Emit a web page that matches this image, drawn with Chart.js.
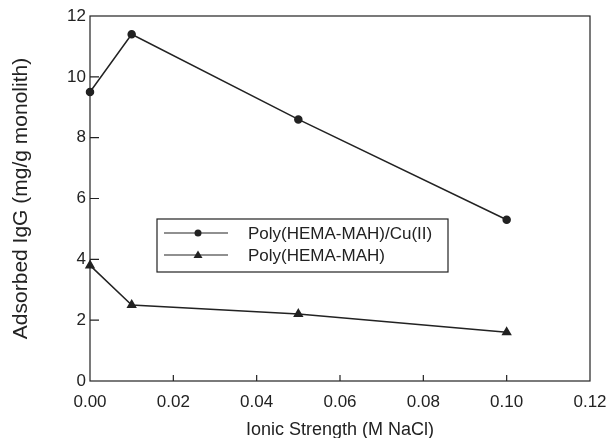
<!DOCTYPE html>
<html><head><meta charset="utf-8">
<script src="https://cdn.jsdelivr.net/npm/chart.js@4/dist/chart.umd.min.js"></script>
<style>html,body{margin:0;padding:0;background:#fff}#wrap{width:613px;height:438px}</style>
</head><body><div id="wrap"><canvas id="c" width="613" height="438"></canvas></div>
<script>
const ionicStrength = [0, 0.01, 0.05, 0.10];
const cuValues = [9.5, 11.4, 8.6, 5.3];
const plainValues = [3.8, 2.5, 2.2, 1.6];
const seriesNames = ['Poly(HEMA-MAH)/Cu(II)', 'Poly(HEMA-MAH)'];
const xTickLabels = ['0.00','0.02','0.04','0.06','0.08','0.10','0.12'];
const yTickLabels = ['0','2','4','6','8','10','12'];

const FONT = '"Liberation Sans", Arial, sans-serif';

const frame = {
  id: 'frame',
  afterDatasetsDraw(chart) {
    const {ctx, chartArea: a, scales: {x, y}} = chart;
    ctx.save();
    ctx.strokeStyle = '#222';
    ctx.lineWidth = 1.2;
    ctx.strokeRect(a.left, a.top, a.right - a.left, a.bottom - a.top);
    ctx.beginPath();
    for (let v = 0.02; v < 0.119; v += 0.02) {
      const px = x.getPixelForValue(v);
      ctx.moveTo(px, a.bottom); ctx.lineTo(px, a.bottom - 6);
    }
    for (let v = 2; v < 12; v += 2) {
      const py = y.getPixelForValue(v);
      ctx.moveTo(a.left, py); ctx.lineTo(a.left + 9, py);
    }
    ctx.stroke();
    // legend box
    const bx = 157, by = 219, bw = 291, bh = 53;
    ctx.lineWidth = 1.2;
    ctx.strokeRect(bx, by, bw, bh);
    const rows = [by + 14, by + 36];
    ctx.font = '17px ' + FONT;
    ctx.fillStyle = '#222';
    ctx.textBaseline = 'middle';
    rows.forEach((ry, i) => {
      ctx.beginPath();
      ctx.moveTo(bx + 7, ry); ctx.lineTo(bx + 71, ry);
      ctx.stroke();
      const mx = bx + 41;
      ctx.beginPath();
      if (i === 0) { ctx.arc(mx, ry, 3.5, 0, Math.PI * 2); }
      else { ctx.moveTo(mx, ry - 4.5); ctx.lineTo(mx + 4.5, ry + 3); ctx.lineTo(mx - 4.5, ry + 3); ctx.closePath(); }
      ctx.fill();
      ctx.fillText(seriesNames[i], bx + 91, ry + 1);
    });
    ctx.restore();
  }
};

new Chart(document.getElementById('c'), {
  type: 'line',
  data: {
    datasets: [
      {label: seriesNames[0], data: ionicStrength.map((v, i) => ({x: v, y: cuValues[i]})),
       borderColor: '#222', backgroundColor: '#222', borderWidth: 1.5, pointStyle: 'circle', pointRadius: 3.5, tension: 0},
      {label: seriesNames[1], data: ionicStrength.map((v, i) => ({x: v, y: plainValues[i]})),
       borderColor: '#222', backgroundColor: '#222', borderWidth: 1.5, pointStyle: 'triangle', pointRadius: 4.5, tension: 0}
    ]
  },
  options: {
    responsive: false, animation: false, clip: false,
    layout: {padding: {top: 16, right: 23, left: 9, bottom: 0}},
    plugins: {legend: {display: false}, tooltip: {enabled: false}},
    scales: {
      x: {
        type: 'linear', min: 0, max: 0.12,
        afterBuildTicks(s) { s.ticks = xTickLabels.map(t => ({value: parseFloat(t)})); },
        afterFit(s) { s.height = 57; s.paddingRight = 0; s.paddingLeft = 0; },
        grid: {display: false, drawTicks: false},
        border: {display: false},
        ticks: {color: '#222', font: {family: FONT, size: 17}, padding: 11, maxRotation: 0,
          callback: (v, i) => xTickLabels[i]},
        title: {display: true, text: 'Ionic Strength (M NaCl)', color: '#222', font: {family: FONT, size: 18}, padding: {top: 16, bottom: -3}}
      },
      y: {
        type: 'linear', min: 0, max: 12,
        afterBuildTicks(s) { s.ticks = yTickLabels.map(t => ({value: parseFloat(t)})); },
        afterFit(s) { s.width = 81; s.paddingTop = 0; s.paddingBottom = 0; },
        grid: {display: false, drawTicks: false},
        border: {display: false},
        ticks: {color: '#222', font: {family: FONT, size: 17}, padding: 4,
          callback: (v, i) => yTickLabels[i]},
        title: {display: true, text: 'Adsorbed IgG (mg/g monolith)', color: '#222', font: {family: FONT, size: 21}, padding: {top: 0, bottom: 10}}
      }
    }
  },
  plugins: [frame]
});
</script></body></html>
